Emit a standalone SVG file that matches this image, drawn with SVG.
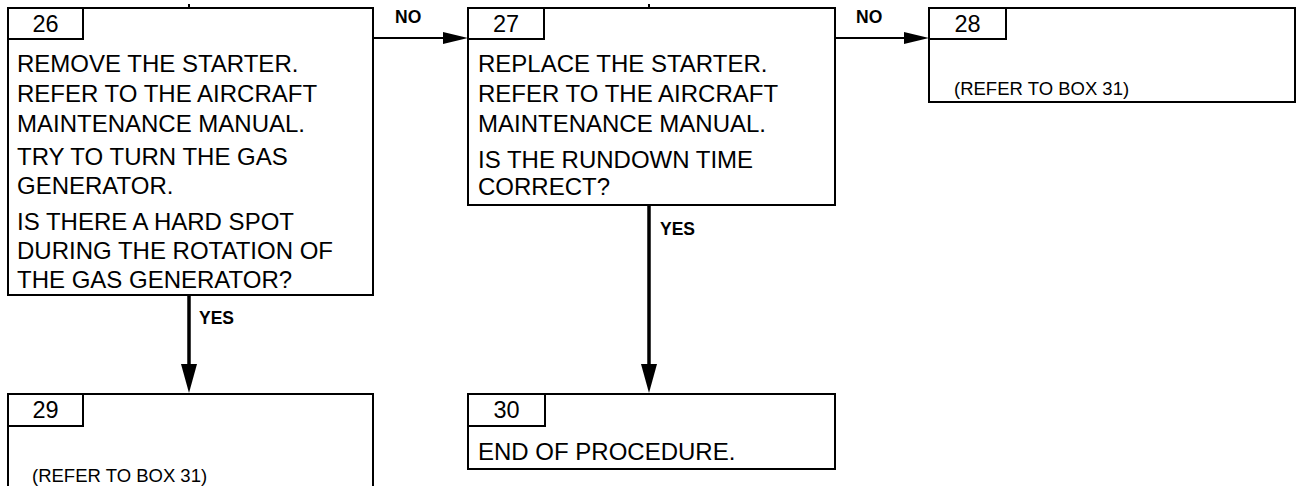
<svg xmlns="http://www.w3.org/2000/svg" width="1305" height="486" viewBox="0 0 1305 486">
<style>
.box{fill:#fff;stroke:#000;stroke-width:2}
.tab{fill:none;stroke:#000;stroke-width:2}
.num{font-family:"Liberation Sans",Arial,sans-serif;font-size:23.5px;fill:#000;text-anchor:middle}
.txt{font-family:"Liberation Sans",Arial,sans-serif;font-size:24px;fill:#000}
.ref{font-family:"Liberation Sans",Arial,sans-serif;font-size:18.5px;fill:#000}
.lbl{font-family:"Liberation Sans",Arial,sans-serif;font-size:17.5px;font-weight:bold;fill:#000}
.h{stroke:#000;stroke-width:2;fill:none}
.v{stroke:#000;stroke-width:3.5;fill:none}
</style>
<defs>
<marker id="ah" markerUnits="userSpaceOnUse" markerWidth="25" markerHeight="12" refX="7" refY="6" orient="auto"><path d="M0,0 L25,6 L0,12 z" fill="#000"/></marker>
<marker id="av" markerUnits="userSpaceOnUse" markerWidth="29" markerHeight="16" refX="9" refY="8" orient="auto"><path d="M0,0 L29,8 L0,16 z" fill="#000"/></marker>
</defs>
<g id="connectors">
<line class="h" x1="189" y1="4" x2="189" y2="8"/>
<line class="h" x1="649" y1="4" x2="649" y2="8"/>
<line class="h" x1="374" y1="38" x2="450" y2="38" marker-end="url(#ah)"/>
<line class="h" x1="836" y1="38" x2="911" y2="38" marker-end="url(#ah)"/>
<line class="v" x1="189" y1="296" x2="189" y2="373" marker-end="url(#av)"/>
<line class="v" x1="649" y1="206" x2="649" y2="373" marker-end="url(#av)"/>
<text class="lbl" x="395" y="23">NO</text>
<text class="lbl" x="856" y="23">NO</text>
<text class="lbl" x="199" y="324">YES</text>
<text class="lbl" x="660" y="235">YES</text>
</g>
<g id="box26">
<rect class="box" x="8" y="8" width="365" height="287"/>
<rect class="tab" x="8" y="8" width="75" height="31"/>
<text class="num" x="45.5" y="31.5">26</text>
<text class="txt" x="17" y="71.5">REMOVE THE STARTER.</text>
<text class="txt" x="17" y="102">REFER TO THE AIRCRAFT</text>
<text class="txt" x="17" y="132">MAINTENANCE MANUAL.</text>
<text class="txt" x="17" y="165">TRY TO TURN THE GAS</text>
<text class="txt" x="17" y="194">GENERATOR.</text>
<text class="txt" x="17" y="230">IS THERE A HARD SPOT</text>
<text class="txt" x="17" y="259">DURING THE ROTATION OF</text>
<text class="txt" x="17" y="288">THE GAS GENERATOR?</text>
</g>
<g id="box27">
<rect class="box" x="468" y="8" width="367" height="197"/>
<rect class="tab" x="468" y="8" width="76" height="31"/>
<text class="num" x="506" y="31.5">27</text>
<text class="txt" x="478" y="71.5">REPLACE THE STARTER.</text>
<text class="txt" x="478" y="102">REFER TO THE AIRCRAFT</text>
<text class="txt" x="478" y="132">MAINTENANCE MANUAL.</text>
<text class="txt" x="478" y="168">IS THE RUNDOWN TIME</text>
<text class="txt" x="478" y="195">CORRECT?</text>
</g>
<g id="box28">
<rect class="box" x="929" y="8" width="366" height="94"/>
<rect class="tab" x="929" y="8" width="77" height="31"/>
<text class="num" x="967.5" y="31.5">28</text>
<text class="ref" x="954" y="94.5">(REFER TO BOX 31)</text>
</g>
<g id="box29">
<rect class="box" x="8" y="394" width="365" height="110"/>
<rect class="tab" x="8" y="394" width="75" height="32"/>
<text class="num" x="45.5" y="418">29</text>
<text class="ref" x="32" y="482">(REFER TO BOX 31)</text>
</g>
<g id="box30">
<rect class="box" x="468" y="394" width="367" height="75"/>
<rect class="tab" x="468" y="394" width="77" height="32"/>
<text class="num" x="506.5" y="418">30</text>
<text class="txt" x="478" y="460">END OF PROCEDURE.</text>
</g>
</svg>
